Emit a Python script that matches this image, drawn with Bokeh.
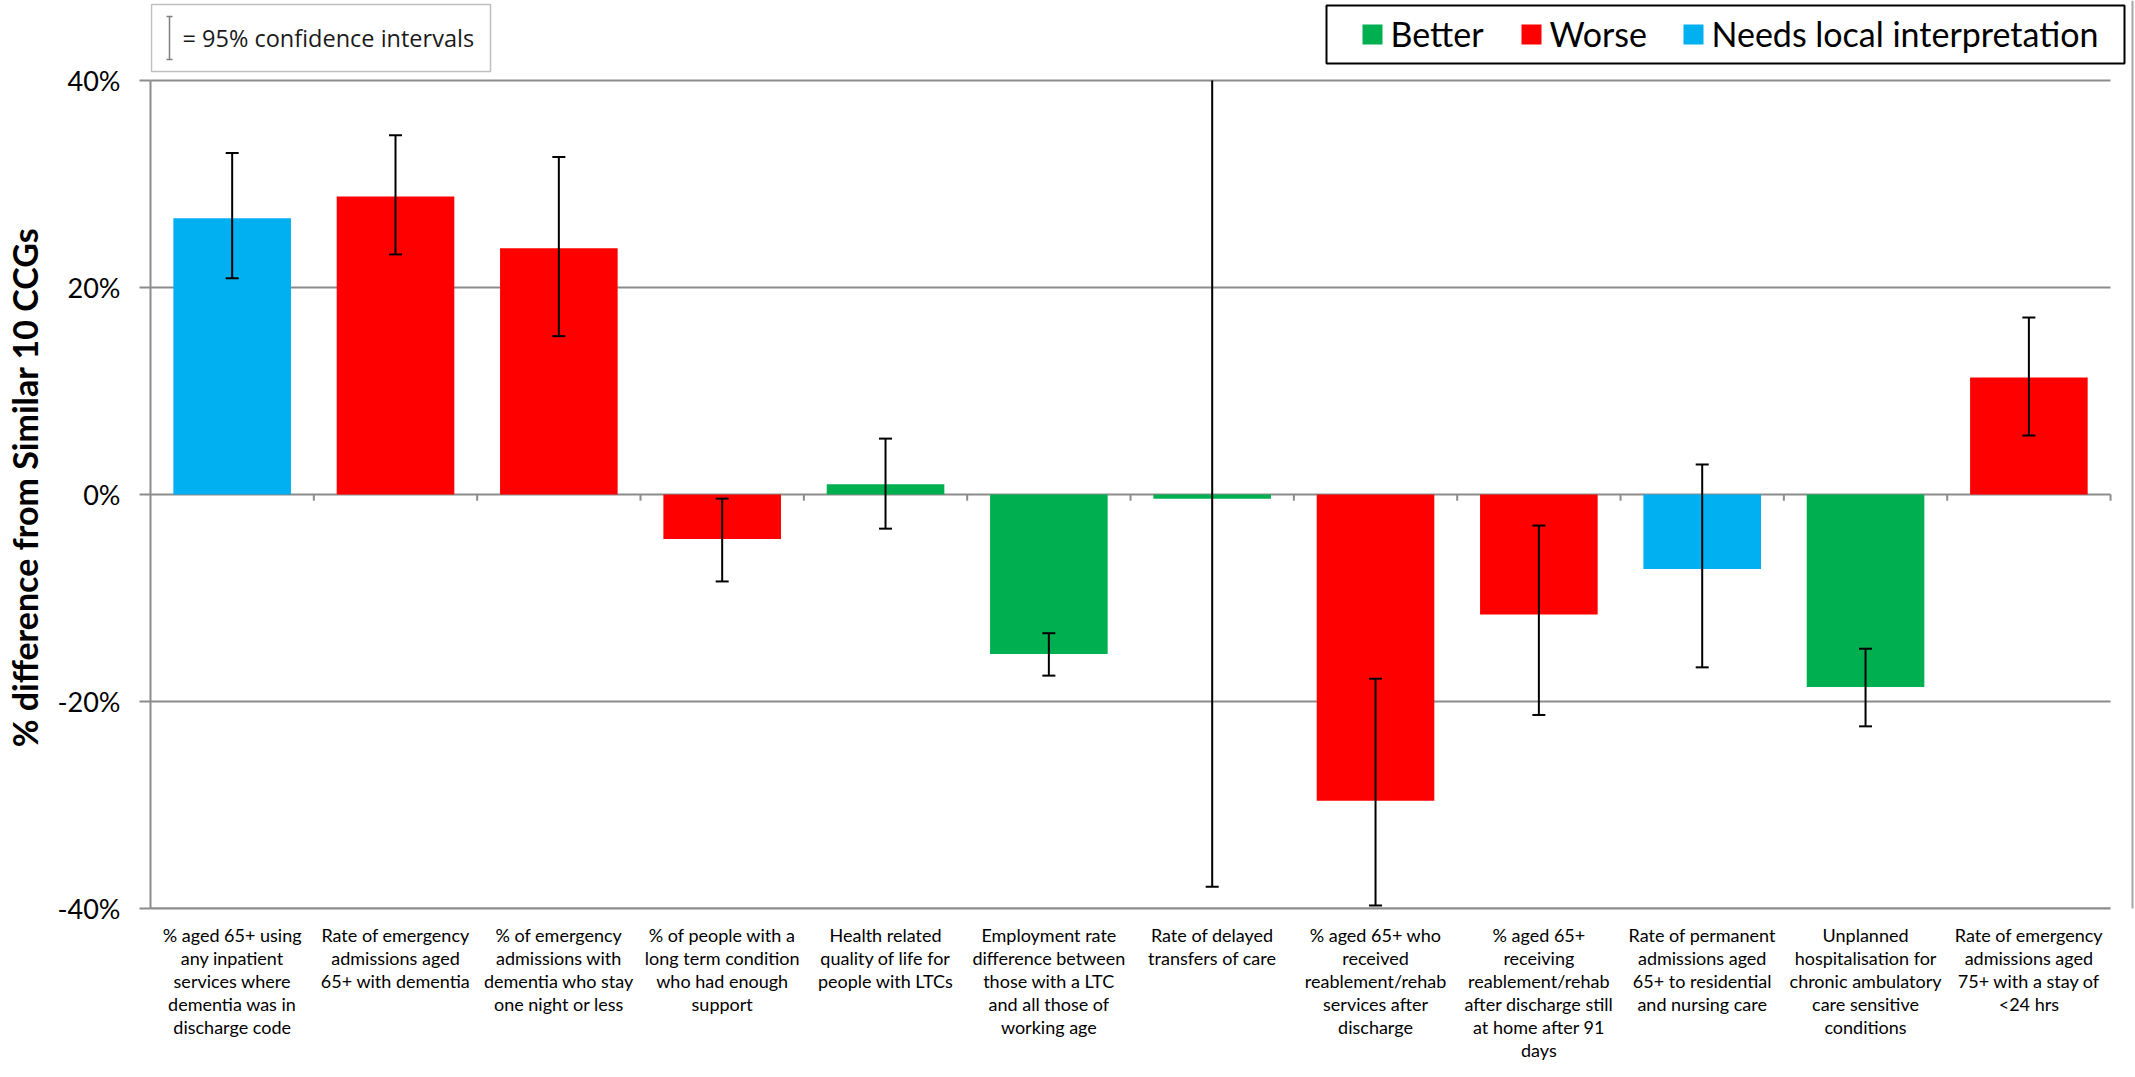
from bokeh.plotting import figure
from bokeh.models import (Range1d, FixedTicker, BoxAnnotation, Label, Whisker,
                          TeeHead, ColumnDataSource, PrintfTickFormatter)
from bokeh.embed import file_html
from bokeh.resources import INLINE

# ---- data -------------------------------------------------------------
categories = [
    "% aged 65+ using\nany inpatient\nservices where\ndementia was in\ndischarge code",
    "Rate of emergency\nadmissions aged\n65+ with dementia",
    "% of emergency\nadmissions with\ndementia who stay\none night or less",
    "% of people with a\nlong term condition\nwho had enough\nsupport",
    "Health related\nquality of life for\npeople with LTCs",
    "Employment rate\ndifference between\nthose with a LTC\nand all those of\nworking age",
    "Rate of delayed\ntransfers of care",
    "% aged 65+ who\nreceived\nreablement/rehab\nservices after\ndischarge",
    "% aged 65+\nreceiving\nreablement/rehab\nafter discharge still\nat home after 91\ndays",
    "Rate of permanent\nadmissions aged\n65+ to residential\nand nursing care",
    "Unplanned\nhospitalisation for\nchronic ambulatory\ncare sensitive\nconditions",
    "Rate of emergency\nadmissions aged\n75+ with a stay of\n<24 hrs",
]
pct_diff = [26.7, 28.8, 23.8, -4.3, 1.0, -15.4, -0.4, -29.6, -11.6, -7.2, -18.6, 11.3]
ci_lower = [20.9, 23.2, 15.3, -8.4, -3.3, -17.5, -37.9, -39.7, -21.3, -16.7, -22.4, 5.7]
ci_upper = [33.0, 34.7, 32.6, -0.4, 5.4, -13.4, 43.0, -17.8, -3.0, 2.9, -14.9, 17.1]
rating = ["Needs local interpretation", "Worse", "Worse", "Worse", "Better", "Better",
          "Better", "Worse", "Worse", "Needs local interpretation", "Better", "Worse"]
rating_names = ["Better", "Worse", "Needs local interpretation"]
rating_colors = ["#00B050", "#FF0000", "#00B0F0"]
y_ticks = [-40, -20, 0, 20, 40]

# ---- layout constants (pixels) -----------------------------------------
W, H = 2135, 1077
LEFT, BOTTOM = 146, 169
AXIS_TOP = 80                      # canvas y of the 40% line
AXIS_RIGHT = 2110                  # canvas x where the category axis ends
FRAME_BOTTOM = H - BOTTOM          # canvas y of the frame's bottom edge
GRID = "#8C8C8C"
FONT = "Lato"

n = len(categories)
y_min, y_max = y_ticks[0], y_ticks[-1]
# the frame fills the canvas above and to the right of the axes, so the keys
# and the chart edge drawn there are not clipped away
y_top = y_max + (y_max - y_min) * AXIS_TOP / (FRAME_BOTTOM - AXIS_TOP)
x_end = n * (W - LEFT) / (AXIS_RIGHT - LEFT)


def sx(cx):
    """canvas x -> frame-relative screen x"""
    return cx - LEFT


def sy(cy):
    """canvas y (top-down) -> frame-relative screen y (bottom-up)"""
    return FRAME_BOTTOM - cy


def screen_box(left, right, top, bottom, **style):
    return BoxAnnotation(left=sx(left), right=sx(right), top=sy(top), bottom=sy(bottom),
                         left_units="screen", right_units="screen",
                         top_units="screen", bottom_units="screen", **style)


centers = [i + 0.5 for i in range(n)]
color_of = dict(zip(rating_names, rating_colors))
src = ColumnDataSource(dict(
    x=centers, top=pct_diff, lower=ci_lower,
    upper=[min(u, y_max) for u in ci_upper],   # intervals run off the top of the axis
    color=[color_of[r] for r in rating],
))
caps_hi = ColumnDataSource(dict(
    x=[c for c, u in zip(centers, ci_upper) if u <= y_max],
    y=[u for u in ci_upper if u <= y_max],
))
caps_lo = ColumnDataSource(dict(
    x=[c for c, l in zip(centers, ci_lower) if l >= y_min],
    y=[l for l in ci_lower if l >= y_min],
))

p = figure(width=W, height=H, output_backend="svg", toolbar_location=None,
           x_range=Range1d(0, x_end), y_range=Range1d(y_min, y_top),
           min_border_left=LEFT, min_border_right=0,
           min_border_top=0, min_border_bottom=BOTTOM)
p.outline_line_color = None
p.background_fill_color = "white"
p.border_fill_color = "white"
p.grid.visible = False

# horizontal gridlines across the category span only
p.segment(x0=[0] * len(y_ticks), y0=y_ticks, x1=[n] * len(y_ticks), y1=y_ticks,
          line_color=GRID, line_width=2)

# y axis; trailing no-break spaces keep the title centred on the -40%..40% span
ya = p.yaxis[0]
ya.bounds = (y_min, y_max)
ya.ticker = FixedTicker(ticks=y_ticks)
ya.formatter = PrintfTickFormatter(format="%d%%")
ya.axis_line_color = GRID
ya.axis_line_width = 2
ya.major_tick_line_color = GRID
ya.major_tick_line_width = 2
ya.major_tick_out = 11
ya.major_tick_in = 0
ya.minor_tick_line_color = None
ya.major_label_standoff = 19
ya.major_label_text_font = FONT
ya.major_label_text_font_size = "27px"
ya.major_label_text_color = "black"
ya.axis_label = "% difference from Similar 10 CCGs" + "\u00a0" * 8
ya.axis_label_text_font = FONT
ya.axis_label_text_font_style = "bold"
ya.axis_label_text_font_size = "34px"
ya.axis_label_text_color = "black"
ya.axis_label_standoff = 10

# x axis (category labels along the bottom)
xa = p.xaxis[0]
xa.bounds = (0, n)
xa.ticker = FixedTicker(ticks=centers)
xa.major_label_overrides = {c: lab for c, lab in zip(centers, categories)}
xa.axis_line_color = GRID
xa.axis_line_width = 2
xa.major_tick_line_color = None
xa.minor_tick_line_color = None
xa.major_label_standoff = 9
xa.major_label_text_font = FONT
xa.major_label_text_font_size = "18px"
xa.major_label_text_line_height = 1.05
xa.major_label_text_color = "black"

# bars
p.vbar(x="x", top="top", bottom=0, width=0.72, source=src,
       fill_color="color", line_color=None)

# small category-separator ticks hanging from the zero line
bounds = list(range(1, n + 1))
p.segment(x0=bounds, y0=[0] * n, x1=bounds, y1=[-0.6] * n,
          line_color=GRID, line_width=2)

# 95% confidence interval bars
p.segment(x0="x", y0="lower", x1="x", y1="upper", source=src,
          line_color="black", line_width=2)
p.scatter(x="x", y="y", source=caps_hi, marker="dash", size=13,
          line_color="black", line_width=2)
p.scatter(x="x", y="y", source=caps_lo, marker="dash", size=13,
          line_color="black", line_width=2)

# ---- confidence interval key (top left) ---------------------------------
p.add_layout(screen_box(147, 486, 4, 71, fill_color=None,
                        line_color="#BFBFBF", line_alpha=1.0, line_width=1.5))
key_src = ColumnDataSource(dict(base=[sx(165)], lower=[sy(59)], upper=[sy(16)]))
p.add_layout(Whisker(source=key_src, base="base", lower="lower", upper="upper",
                     dimension="height", base_units="screen",
                     lower_units="screen", upper_units="screen", level="annotation",
                     line_color="#7F7F7F", line_width=1.5,
                     upper_head=TeeHead(size=6, line_color="#7F7F7F", line_width=1.5),
                     lower_head=TeeHead(size=6, line_color="#7F7F7F", line_width=1.5)))
p.add_layout(Label(x=sx(178), y=sy(37), x_units="screen", y_units="screen",
                   text="= 95% confidence intervals", text_baseline="middle",
                   text_font="Open Sans", text_font_size="23.5px",
                   text_color="#1a1a1a"))

# ---- rating legend (top right) --------------------------------------------
p.add_layout(screen_box(1322, 2120, 5, 63, fill_color="white", fill_alpha=1.0,
                        line_color="black", line_alpha=1.0, line_width=2))
swatch_x = [1358, 1517, 1679]
for name, col, cx in zip(rating_names, rating_colors, swatch_x):
    p.add_layout(screen_box(cx, cx + 20, 24, 44, fill_color=col, fill_alpha=1.0,
                            line_color=None))
    p.add_layout(Label(x=sx(cx + 28), y=sy(33), x_units="screen", y_units="screen",
                       text=name, text_baseline="middle",
                       text_font=FONT, text_font_size="34px", text_color="black"))

# chart-area edge on the right
p.add_layout(screen_box(2127, 2129, 0, H, fill_color="#A6A6A6", fill_alpha=1.0,
                        line_color=None))

open("out.html", "w").write(file_html(p, INLINE))
